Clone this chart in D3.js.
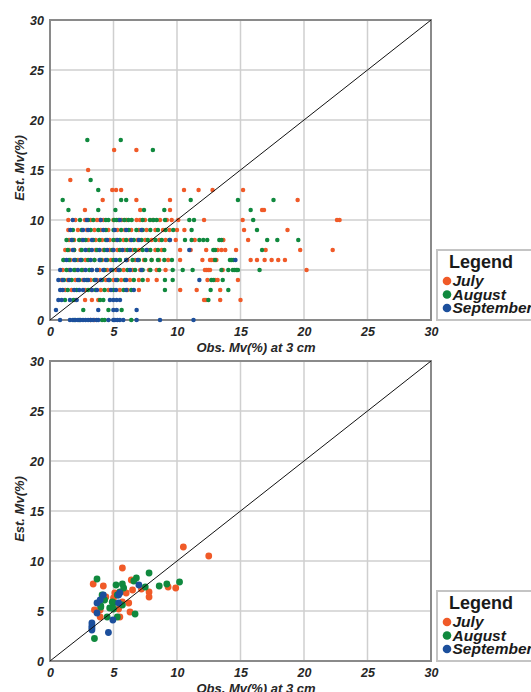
<!DOCTYPE html>
<html>
<head>
<meta charset="utf-8">
<script src="https://cdn.jsdelivr.net/npm/d3@7"></script>
<style>
    body { margin: 0; background: #fff; }
    svg { display: block; }
    text { font-family: "Liberation Sans", Arial, sans-serif; }
</style>
</head>
<body>
<script>

// months and their colours
const months = ["July", "August", "September"];
const monthColors = ["#f05a28", "#10893e", "#1c4f9c"];

// tick labels on both axes
const axisTicks = [0, 5, 10, 15, 20, 25, 30];

// top panel: rows of [estimated Mv, observed Mv values]
const julyTop = [
    [17, [5.05, 6.8]],
    [15, [3.0]],
    [14, [1.6]],
    [13, [4.9, 5.2, 5.6, 10.55, 11.7, 12.8, 15.2]],
    [12, [4.15, 6.8, 9.45, 19.5]],
    [11, [2.75, 7.1, 9.45, 16.7, 16.85]],
    [10, [1.44, 2.0, 2.76, 3.2, 3.7, 3.94, 4.2, 4.99, 5.4, 5.64, 6.0, 6.82, 7.09, 7.48, 8.1, 8.66, 9.2, 9.58, 10.1, 12.13, 15.17, 22.6, 22.8]],
    [9, [1.44, 2.2, 2.9, 3.5, 4.0, 4.6, 5.3, 5.9, 6.4, 7.0, 7.6, 8.3, 8.9, 9.4, 10.0, 10.58, 15.28, 18.7]],
    [8, [1.5, 1.9, 2.5, 3.0, 3.6, 4.1, 4.7, 5.2, 5.8, 6.3, 6.9, 7.5, 8.0, 8.6, 9.1, 9.9, 11.4, 13.65, 15.6]],
    [7, [1.2, 1.5, 1.9, 2.4, 3.0, 3.6, 4.2, 4.7, 5.3, 5.9, 6.5, 7.0, 7.7, 8.3, 8.8, 10.24, 11.08, 12.3, 13.2, 13.5, 13.8, 14.65, 16.98, 19.7, 22.26]],
    [6, [1.1, 1.6, 2.2, 2.8, 3.5, 4.1, 4.8, 5.5, 6.1, 6.7, 7.4, 8.0, 8.6, 9.3, 10.24, 12.0, 12.6, 12.73, 12.9, 13.1, 15.8, 16.3, 16.9, 17.45, 17.97, 18.5]],
    [5, [1.0, 1.5, 2.0, 2.6, 3.3, 3.9, 4.5, 5.2, 5.8, 6.5, 7.1, 7.8, 8.4, 9.1, 12.2, 12.34, 12.47, 12.6, 13.6, 20.2]],
    [4, [0.9, 1.4, 2.0, 2.6, 3.2, 3.7, 4.4, 5.0, 5.6, 6.3, 7.0, 7.7, 8.4, 12.4, 13.0, 13.2, 14.8]],
    [3, [1.2, 1.7, 2.76, 3.3, 4.0, 4.6, 5.5, 6.1, 7.0, 10.25, 11.55, 13.4]],
    [2, [1.97, 2.76, 3.3, 3.8, 12.13, 12.28, 13.4, 15.0]],
    [0, [3.2, 3.5]]
];

const augustTop = [
    [18, [2.94, 5.57]],
    [17, [8.1]],
    [14, [3.2]],
    [13, [3.8]],
    [12, [1.0, 5.6, 6.0, 11.08, 14.8, 17.6]],
    [11, [1.45, 3.8, 5.15, 7.4, 9.0, 15.8]],
    [10, [2.36, 3.0, 3.41, 4.4, 4.6, 5.05, 5.25, 5.85, 6.17, 6.43, 7.3, 7.87, 8.14, 8.4, 9.06, 10.97, 11.34, 16.0]],
    [9, [1.8, 2.5, 3.2, 3.8, 4.4, 5.0, 5.6, 6.2, 6.8, 7.3, 7.9, 8.5, 9.1, 9.7, 11.15, 16.3]],
    [8, [1.3, 1.8, 2.3, 2.8, 3.4, 3.9, 4.4, 5.0, 5.5, 6.0, 6.6, 7.2, 7.7, 8.3, 8.8, 9.4, 10.63, 11.15, 11.76, 12.07, 12.38, 13.33, 13.5, 17.1, 17.9, 19.55]],
    [7, [1.4, 1.9, 2.5, 3.1, 3.7, 4.3, 4.9, 5.5, 6.1, 6.7, 7.3, 7.9, 8.5, 9.0, 12.86, 13.0, 16.7]],
    [6, [1.05, 1.5, 2.0, 2.5, 3.0, 3.5, 4.0, 4.5, 5.0, 5.5, 6.0, 6.5, 7.0, 7.5, 8.0, 8.5, 9.0, 9.6, 13.0, 14.17, 14.3, 14.43]],
    [5, [1.3, 1.9, 2.5, 3.1, 3.7, 4.3, 4.9, 5.5, 6.1, 6.7, 7.3, 7.9, 8.6, 9.66, 10.45, 11.23, 13.5, 14.04, 14.4, 14.55, 14.7, 14.8, 16.5]],
    [4, [1.1, 1.7, 2.3, 2.9, 3.5, 4.1, 4.7, 5.3, 5.9, 6.6, 7.3, 9.05, 9.66, 12.7, 12.86, 13.6]],
    [3, [1.4, 2.1, 3.0, 3.6, 4.3, 5.0, 5.8, 6.4, 9.05, 12.65, 14.04]],
    [2, [1.18, 1.84, 3.94, 4.2, 12.47]],
    [1, [2.62, 4.6, 5.64]],
    [0, [1.9, 2.3, 4.1, 4.3, 6.4]]
];

const septemberTop = [
    [10, [1.79, 2.9, 4.0, 5.5]],
    [9, [1.6, 2.6, 3.0, 4.2, 5.1, 6.0, 7.2]],
    [8, [1.7, 2.6, 3.3, 4.5, 5.3, 6.4, 7.0, 9.45]],
    [7, [1.8, 2.8, 3.3, 3.9, 4.5, 5.0, 5.7, 6.3, 7.6, 10.97]],
    [6, [1.3, 1.9, 2.4, 3.2, 3.9, 4.4, 5.2, 6.0, 6.9, 14.6]],
    [5, [0.8, 1.6, 2.2, 2.8, 3.3, 3.7, 4.2, 4.8, 5.4, 6.3, 7.2]],
    [4, [0.66, 1.0, 1.5, 2.2, 2.7, 3.0, 3.6, 4.0, 4.6, 5.2, 6.0, 11.76]],
    [3, [0.8, 1.0, 1.9, 2.3, 2.6, 3.3, 3.7, 4.8, 5.2, 6.0, 6.6]],
    [2, [0.66, 0.92, 1.57, 2.1, 4.72, 4.99, 5.25, 5.51]],
    [1, [0.47, 3.8, 4.99, 5.25, 6.82]],
    [0, [0.79, 1.57, 1.8, 2.0, 2.2, 2.4, 2.6, 2.8, 3.0, 3.2, 3.4, 3.67, 3.8, 4.6, 4.99, 5.1, 5.3, 5.5, 5.77, 6.82, 8.66, 11.3]]
];

// bottom panel: [observed, estimated] pairs
const julyBottom = [
    [10.5, 11.4], [12.5, 10.5], [5.7, 9.3], [3.4, 7.7], [4.2, 7.5], [6.4, 8.1],
    [9.3, 7.4], [9.9, 7.3], [7.2, 7.2], [7.8, 6.9], [7.8, 6.4], [6.5, 7.1],
    [6.0, 6.8], [5.1, 6.8], [5.0, 6.3], [4.4, 6.4], [5.7, 5.9], [6.2, 5.8],
    [5.4, 5.2], [3.5, 5.1], [3.95, 5.1], [6.3, 4.9], [3.95, 4.4], [5.5, 4.4]
];

const augustBottom = [
    [7.8, 8.8], [3.7, 8.2], [6.8, 8.3], [6.6, 8.0], [5.2, 7.6], [5.7, 7.7],
    [7.5, 7.4], [8.6, 7.5], [9.2, 7.7], [10.2, 7.9], [5.8, 7.3], [5.5, 6.9],
    [5.3, 6.6], [4.1, 6.6], [4.3, 6.1], [4.0, 5.5], [5.0, 5.8], [5.7, 5.6],
    [4.7, 5.3], [5.0, 5.2], [4.0, 5.4], [6.7, 4.7], [4.5, 4.4], [5.3, 4.4],
    [4.9, 5.9], [3.5, 2.25]
];

const septemberBottom = [
    [7.0, 7.6], [5.5, 6.8], [5.4, 6.6], [4.2, 6.6], [3.7, 5.8], [3.95, 6.1],
    [5.4, 5.8], [4.95, 4.1], [3.7, 4.8], [3.3, 3.8], [3.3, 3.5], [3.3, 3.3],
    [3.3, 3.1], [4.6, 2.85]
];


// create SVG element
const svg = d3.select("body")
              .append("svg")
              .attr("width", 531)
              .attr("height", 692);

svg.append("rect")
   .attr("width", 531)
   .attr("height", 692)
   .attr("fill", "#fff");


/** Turns rows of [y, xs] into [x, y] points. */
function rowsToPoints(rows) {
    return rows.flatMap(function(row) {
        return row[1].map(function(x) { return [x, row[0]]; });
    });
}


/** Draws one scatter panel with grid, axes, diagonal and legend. */
function drawPanel(top, series, radius) {

    const left = 50;
    const w = 381;
    const h = 300;

    let xScale = d3.scaleLinear().domain([0, 30]).range([left, left + w]);
    let yScale = d3.scaleLinear().domain([0, 30]).range([top + h, top]);

    let g = svg.append("g");

    // grid lines
    g.selectAll(".vgrid")
     .data(axisTicks.slice(1, -1))
     .enter().append("line")
     .attr("x1", function(d) { return xScale(d); })
     .attr("x2", function(d) { return xScale(d); })
     .attr("y1", top)
     .attr("y2", top + h)
     .attr("stroke", "#cfcfcf")
     .attr("stroke-width", 1.5);

    g.selectAll(".hgrid")
     .data(axisTicks.slice(1, -1))
     .enter().append("line")
     .attr("x1", left)
     .attr("x2", left + w)
     .attr("y1", function(d) { return yScale(d); })
     .attr("y2", function(d) { return yScale(d); })
     .attr("stroke", "#cfcfcf")
     .attr("stroke-width", 1.5);

    // frame
    g.append("rect")
     .attr("x", left)
     .attr("y", top)
     .attr("width", w)
     .attr("height", h)
     .attr("fill", "none")
     .attr("stroke", "#8a8a8a")
     .attr("stroke-width", 2);

    // axes (labels only)
    let xAxis = g.append("g")
                 .attr("transform", "translate(0," + (top + h) + ")")
                 .call(d3.axisBottom(xScale).tickValues(axisTicks).tickSize(0).tickPadding(7));

    let yAxis = g.append("g")
                 .attr("transform", "translate(" + left + ",0)")
                 .call(d3.axisLeft(yScale).tickValues(axisTicks).tickSize(0).tickPadding(6));

    [xAxis, yAxis].forEach(function(axis) {
        axis.select(".domain").remove();
        axis.selectAll("text")
            .attr("fill", "#262626")
            .style("font-size", "12.5px")
            .style("font-weight", "bold")
            .style("font-style", "italic");
    });

    // axis titles
    g.append("text")
     .attr("x", 256)
     .attr("y", top + h + 32)
     .attr("text-anchor", "middle")
     .attr("fill", "#262626")
     .style("font-size", "13px")
     .style("font-weight", "bold")
     .style("font-style", "italic")
     .text("Obs. Mv(%) at 3 cm");

    g.append("text")
     .attr("transform", "translate(24," + (top + 148) + ") rotate(-90)")
     .attr("text-anchor", "middle")
     .attr("fill", "#262626")
     .style("font-size", "13px")
     .style("font-weight", "bold")
     .style("font-style", "italic")
     .text("Est. Mv(%)");

    // points for each month
    series.forEach(function(points, i) {
        g.append("g")
         .selectAll("circle")
         .data(points)
         .enter().append("circle")
         .attr("cx", function(d) { return xScale(d[0]); })
         .attr("cy", function(d) { return yScale(d[1]); })
         .attr("r", radius)
         .attr("fill", monthColors[i]);
    });

    // 1:1 line
    g.append("line")
     .attr("x1", xScale(0))
     .attr("y1", yScale(0))
     .attr("x2", xScale(30))
     .attr("y2", yScale(30))
     .attr("stroke", "#111")
     .attr("stroke-width", 1);

    addLegend(top + h - 70);
}


/** Adds the month legend box right of a panel. */
function addLegend(top) {

    let legend = svg.append("g")
                    .attr("transform", "translate(437," + top + ")");

    legend.append("rect")
          .attr("width", 120)
          .attr("height", 70)
          .attr("fill", "#fff")
          .attr("stroke", "#c4c4c4")
          .attr("stroke-width", 2);

    legend.append("text")
          .attr("x", 12)
          .attr("y", 17.5)
          .attr("fill", "#1a1a1a")
          .style("font-size", "18px")
          .style("font-weight", "bold")
          .text("Legend");

    let items = legend.selectAll(".item")
                      .data(months)
                      .enter().append("g")
                      .attr("transform", function(d, i) {
                          return "translate(0," + (31 + i * 13.5) + ")"; });

    items.append("circle")
         .attr("cx", 10)
         .attr("cy", 0)
         .attr("r", 4.3)
         .attr("fill", function(d, i) { return monthColors[i]; });

    items.append("text")
         .attr("x", 15.5)
         .attr("y", 5)
         .attr("fill", "#1a1a1a")
         .style("font-size", "15.5px")
         .style("font-weight", "bold")
         .style("font-style", "italic")
         .text(function(d) { return d; });
}


drawPanel(20, [rowsToPoints(julyTop), rowsToPoints(augustTop), rowsToPoints(septemberTop)], 2.25);
drawPanel(361, [julyBottom, augustBottom, septemberBottom], 3.4);

</script>
</body>
</html>
